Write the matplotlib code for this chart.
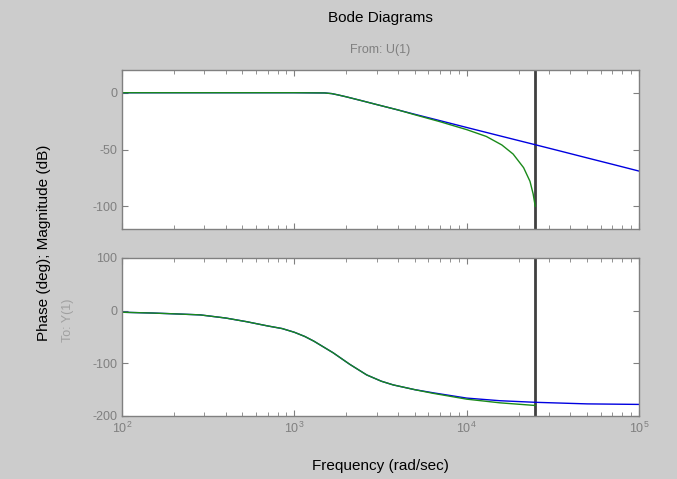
import numpy as np
import matplotlib
matplotlib.use("Agg")
import matplotlib.pyplot as plt
from matplotlib.ticker import LogLocator, NullFormatter

plt.rcParams['font.family'] = ['Liberation Sans', 'DejaVu Sans']
plt.rcParams['axes.unicode_minus'] = False

# values (rad/sec, dB, deg)
mag_blue_w = [1e2, 3e2, 1e3, 1.5e3, 1.65e3, 1.8e3, 2e3, 2.5e3, 3e3, 4e3, 5e3,
              7e3, 1e4, 1.56e4, 2.5e4, 3.5e4, 5e4, 7e4, 1e5]
mag_blue = [0, 0, 0, -0.2, -0.8, -2.0, -3.6, -7.3, -10.4, -15.2, -19.0,
            -24.6, -30.6, -38.0, -45.8, -51.4, -57.4, -63.0, -69.0]

mag_green_w = [1e2, 3e2, 1e3, 1.5e3, 1.65e3, 1.8e3, 2e3, 2.5e3, 3e3, 4e3, 5e3,
               7e3, 1e4, 1.3e4, 1.6e4, 1.86e4, 2.14e4, 2.33e4, 2.43e4, 2.5e4]
mag_green = [0, 0, 0, -0.2, -0.8, -2.0, -3.6, -7.3, -10.4, -15.2, -19.4,
             -25.5, -32.5, -38.5, -46.0, -54.0, -66.0, -78.0, -89.0, -100.0]

ph_blue_w = [1e2, 1.5e2, 2e2, 2.84e2, 4e2, 5.3e2, 7e2, 8.5e2, 1e3, 1.15e3, 1.3e3,
             1.68e3, 2.1e3, 2.63e3, 3.2e3, 3.75e3, 5e3, 6.4e3, 1e4, 1.56e4,
             2.5e4, 5e4, 1e5]
ph_blue = [-3, -4.5, -6, -8, -14, -21, -29, -34, -41, -49, -58,
           -80, -102, -122, -134, -141, -150, -156, -166, -171,
           -174, -177, -178]

ph_green_w = [1e2, 1.5e2, 2e2, 2.84e2, 4e2, 5.3e2, 7e2, 8.5e2, 1e3, 1.15e3, 1.3e3,
              1.68e3, 2.1e3, 2.63e3, 3.2e3, 3.75e3, 5e3, 6.4e3, 1e4, 1.56e4,
              2.5e4]
ph_green = [-3, -4.5, -6, -8, -14, -21, -29, -34, -41, -49, -58,
            -80, -102, -122, -134, -141, -150, -157, -168, -175,
            -180]

w_marker = 2.5e4

BG = '#cccccc'
GREY = '#808080'
BLUE = '#0000e0'
GREEN = '#1a8a1a'

W, H = 677, 479
fig = plt.figure(figsize=(W / 100, H / 100), dpi=100, facecolor=BG)

def box(x0, y0, x1, y1):
    return [x0 / W, 1 - y1 / H, (x1 - x0) / W, (y1 - y0) / H]

ax1 = fig.add_axes(box(122, 70, 639, 229))
ax2 = fig.add_axes(box(122, 258, 639, 416))

def style(ax):
    ax.set_xscale('log')
    ax.set_xlim(1e2, 1e5)
    ax.set_facecolor('white')
    for s in ax.spines.values():
        s.set_color(GREY)
        s.set_linewidth(1.0)
    ax.tick_params(which='both', direction='in', top=True, right=True,
                   colors=GREY, labelcolor=GREY, labelsize=9)
    ax.tick_params(which='major', length=4)
    ax.tick_params(which='minor', length=3)
    ax.xaxis.set_minor_locator(LogLocator(base=10, subs=np.arange(2, 10)))
    ax.xaxis.set_minor_formatter(NullFormatter())
    ax.axvline(w_marker, color='#404040', lw=2)

style(ax1)
ax1.plot(mag_blue_w, mag_blue, color=BLUE, lw=1.0)
ax1.plot(mag_green_w, mag_green, color=GREEN, lw=1.0)
ax1.set_ylim(-120, 20)
ax1.set_yticks([0, -50, -100])
ax1.set_xticklabels([])

style(ax2)
ax2.plot(ph_blue_w, ph_blue, color=BLUE, lw=1.0)
ax2.plot(ph_green_w, ph_green, color=GREEN, lw=1.0)
ax2.set_ylim(-200, 100)
ax2.set_yticks([100, 0, -100, -200])

fig.text(380 / W, 1 - 18 / H, 'Bode Diagrams', ha='center', va='center', fontsize=11)
fig.text(380 / W, 1 - 50 / H, 'From: U(1)', ha='center', va='center', fontsize=9, color=GREY)
fig.text(380 / W, 1 - 466 / H, 'Frequency (rad/sec)', ha='center', va='center', fontsize=11)
fig.text(44 / W, 1 - 243 / H, 'Phase (deg); Magnitude (dB)', ha='center', va='center',
         rotation=90, fontsize=11)
fig.text(68 / W, 1 - 320 / H, 'To: Y(1)', ha='center', va='center', rotation=90,
         fontsize=9, color='#a0a0a0')

fig.savefig('out.png', dpi=100, facecolor=BG)
